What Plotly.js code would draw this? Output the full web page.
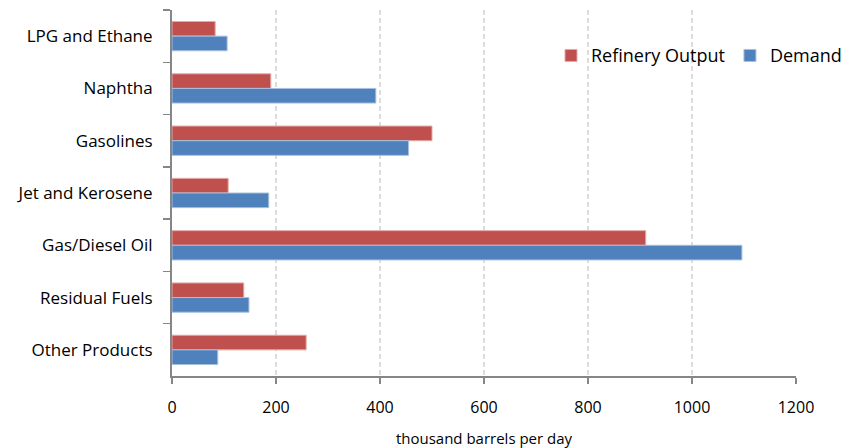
<!DOCTYPE html>
<html>
<head>
<meta charset="utf-8">
<script src="https://cdn.plot.ly/plotly-3.0.1.min.js"></script>
<style>html,body{margin:0;padding:0;background:#fff;}#chart{width:849px;height:448px;}</style>
</head>
<body>
<div id="chart"></div>
<script>
const categories = ["LPG and Ethane", "Naphtha", "Gasolines", "Jet and Kerosene", "Gas/Diesel Oil", "Residual Fuels", "Other Products"];
const refineryOutput = [83, 190, 500, 108, 911, 138, 258];
const demand = [106, 392, 455, 186, 1096, 148, 88];
const xTicks = [0, 200, 400, 600, 800, 1000, 1200];

const FONT = '"Open Sans", sans-serif';

const traces = [
  {type: 'bar', orientation: 'h', name: 'Refinery Output', y: categories, x: refineryOutput,
   marker: {color: '#C0504D', line: {color: '#E3A9A8', width: 1}}},
  {type: 'bar', orientation: 'h', name: 'Demand', y: categories, x: demand,
   marker: {color: '#4F81BD', line: {color: '#A7C0DE', width: 1}}}
];

const layout = {
  width: 849, height: 448,
  margin: {l: 172, r: 2, t: 10, b: 72, autoexpand: false},
  paper_bgcolor: '#fff', plot_bgcolor: '#fff',
  barmode: 'group', bargap: 0.44, bargroupgap: 0,
  font: {family: FONT, size: 17, color: '#000'},
  showlegend: true,
  legend: {orientation: 'h', x: 1.0, xanchor: 'right', y: 0.875, yanchor: 'middle',
           font: {family: FONT, size: 18, color: '#000'}, traceorder: 'normal',
           itemwidth: 30, tracegroupgap: 0, bgcolor: 'rgba(0,0,0,0)'},
  xaxis: {domain: [0, 624 / 675], range: [0, 1200], tickvals: xTicks, ticktext: xTicks.map(String),
          showgrid: true, gridcolor: '#DCDCDC', griddash: '5px,3px', gridwidth: 1.5,
          zeroline: false, showline: true, linecolor: '#868686', linewidth: 2,
          ticks: 'outside', ticklen: 6, tickcolor: '#868686', tickwidth: 1.5,
          ticklabelstandoff: 10,
          tickfont: {family: FONT, size: 16, color: '#000'},
          title: {text: 'thousand barrels per day', font: {family: FONT, size: 15, color: '#000'}, standoff: 16},
          fixedrange: true},
  yaxis: {autorange: 'reversed', type: 'category', showgrid: false, zeroline: false,
          showline: true, linecolor: '#868686', linewidth: 2,
          ticks: 'outside', tickson: 'boundaries', ticklen: 7, tickcolor: '#868686', tickwidth: 1.5,
          ticklabelstandoff: 14,
          tickfont: {family: FONT, size: 17, color: '#000'}, fixedrange: true}
};

Plotly.newPlot('chart', traces, layout, {displayModeBar: false, staticPlot: true});
</script>
</body>
</html>
